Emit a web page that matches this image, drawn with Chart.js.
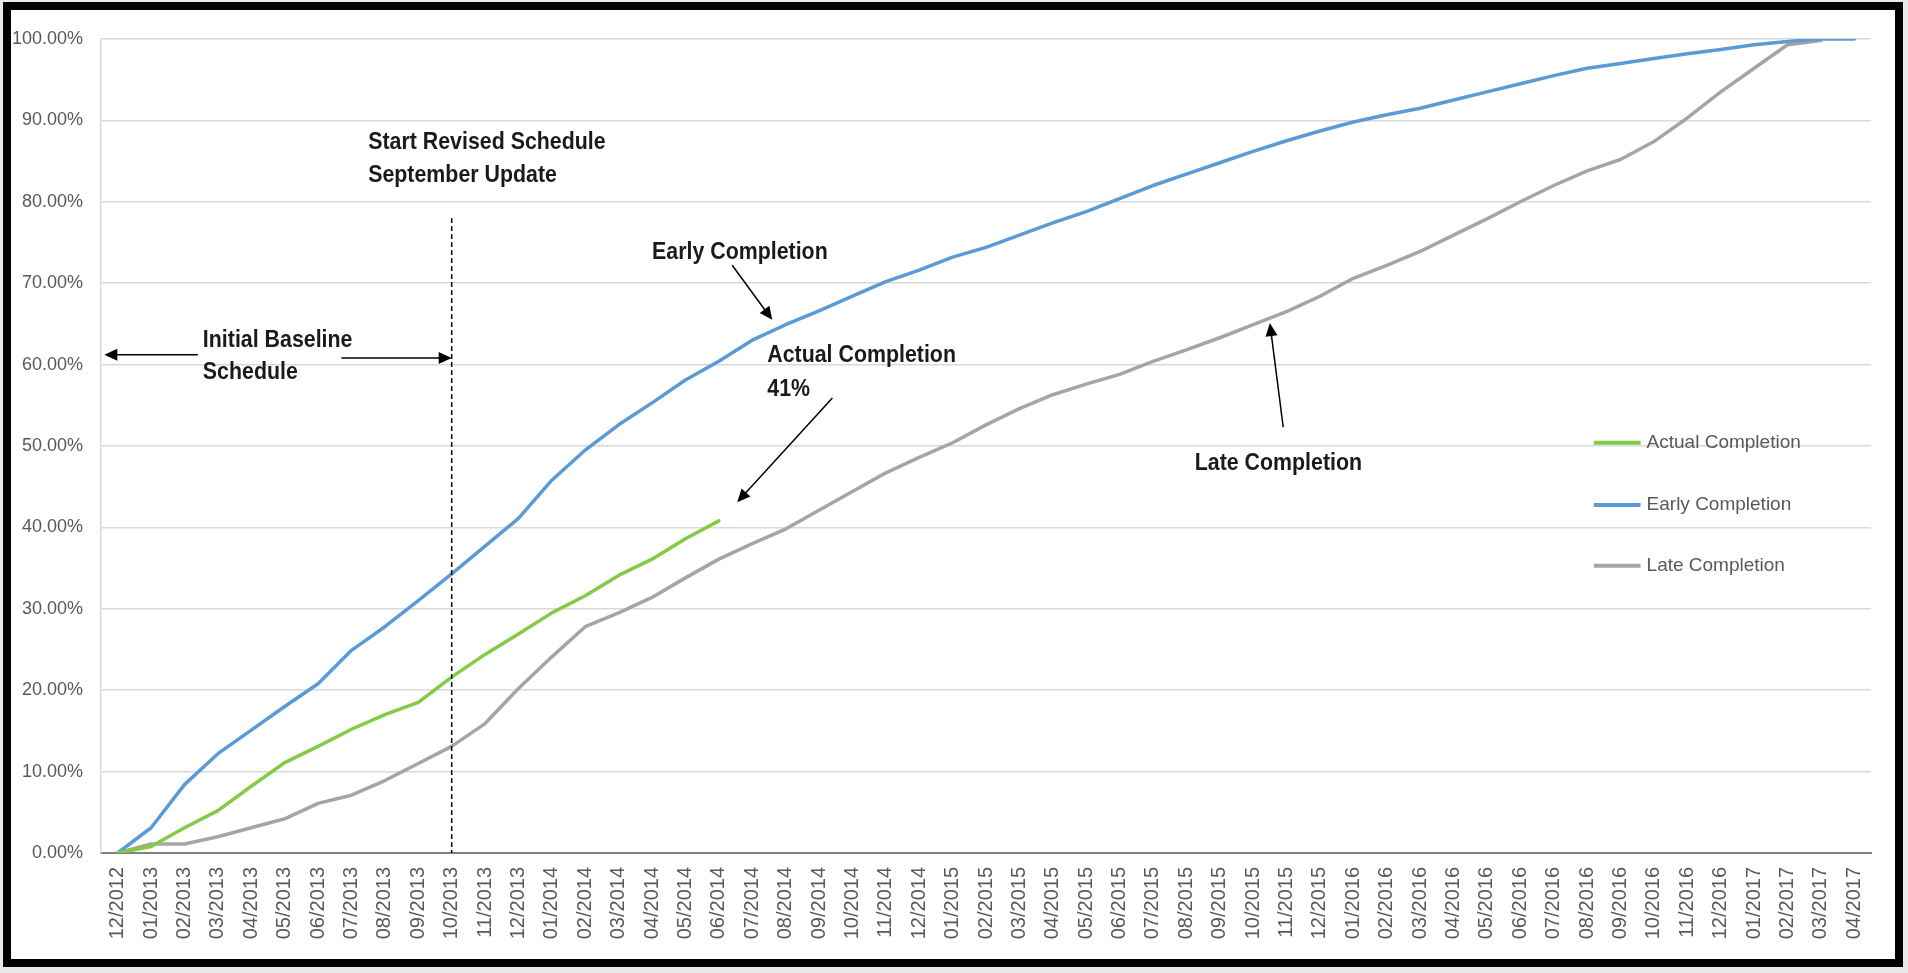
<!DOCTYPE html>
<html>
<head>
<meta charset="utf-8">
<title>Completion curves</title>
<script src="https://cdn.jsdelivr.net/npm/chart.js@4.4.1/dist/chart.umd.min.js"></script>
<style>
  html, body { margin: 0; padding: 0; background: #e9e9e9; }
  #frame {
    position: absolute; left: 3px; top: 2px;
    width: 1900px; height: 965px;
    box-sizing: border-box; border: 8px solid #000; background: #fff;
  }
  #wrap { position: absolute; left: 0; top: 0; width: 1884px; height: 949px; }
</style>
</head>
<body>
<div id="frame"><div id="wrap"><canvas id="progress"></canvas></div></div>
<script>
// months on the category axis
var months = [
  '12/2012',
  '01/2013', '02/2013', '03/2013', '04/2013', '05/2013', '06/2013',
  '07/2013', '08/2013', '09/2013', '10/2013', '11/2013', '12/2013',
  '01/2014', '02/2014', '03/2014', '04/2014', '05/2014', '06/2014',
  '07/2014', '08/2014', '09/2014', '10/2014', '11/2014', '12/2014',
  '01/2015', '02/2015', '03/2015', '04/2015', '05/2015', '06/2015',
  '07/2015', '08/2015', '09/2015', '10/2015', '11/2015', '12/2015',
  '01/2016', '02/2016', '03/2016', '04/2016', '05/2016', '06/2016',
  '07/2016', '08/2016', '09/2016', '10/2016', '11/2016', '12/2016',
  '01/2017', '02/2017', '03/2017', '04/2017'
];

// cumulative % complete
var actualCompletion = [
  0, 0.8, 3.1, 5.2, 8.2, 11.1, 13.1, 15.2, 17.0, 18.5, 21.6, 24.4, 26.9,
  29.5, 31.6, 34.1, 36.1, 38.6, 40.8
];
var earlyCompletion = [
  0, 3.1, 8.4, 12.2, 15.1, 18.0, 20.8, 24.9, 27.8, 31.0, 34.3, 37.7, 41.1,
  45.8, 49.5, 52.6, 55.3, 58.1, 60.4, 63.0, 64.9, 66.6, 68.4, 70.2, 71.6,
  73.2, 74.4, 75.9, 77.4, 78.8, 80.4, 82.0, 83.4, 84.8, 86.2, 87.5, 88.7,
  89.8, 90.7, 91.5, 92.5, 93.5, 94.5, 95.5, 96.4, 97.0, 97.6, 98.2, 98.7,
  99.3, 99.7, 100, 100
];
var lateCompletion = [
  0, 1.1, 1.1, 2.0, 3.1, 4.2, 6.1, 7.1, 8.9, 11.0, 13.1, 15.9, 20.2,
  24.1, 27.8, 29.5, 31.4, 33.8, 36.1, 38.0, 39.8, 42.1, 44.4, 46.7, 48.6,
  50.4, 52.6, 54.6, 56.3, 57.6, 58.8, 60.4, 61.8, 63.3, 64.9, 66.5, 68.4,
  70.6, 72.2, 73.9, 75.9, 77.9, 80.0, 82.0, 83.8, 85.2, 87.4, 90.3, 93.5,
  96.4, 99.3, 99.8
];

var seriesNames = ['Actual Completion', 'Early Completion', 'Late Completion'];
var seriesColors = ['#82cb44', '#5b9bd5', '#a5a5a5'];

var revisedMonth = 10; // index of 10/2013, start of revised schedule

// call-outs, placed in axis units (month index, percent)
var notes = [
  { text: 'Start Revised Schedule', x: 7.5, y: 87.3 },
  { text: 'September Update', x: 7.5, y: 83.3 },
  { text: 'Initial Baseline', x: 2.55, y: 63.0 },
  { text: 'Schedule', x: 2.55, y: 59.0 },
  { text: 'Early Completion', x: 16.0, y: 73.8 },
  { text: 'Actual Completion', x: 19.45, y: 61.1 },
  { text: '41%', x: 19.45, y: 56.9 },
  { text: 'Late Completion', x: 32.25, y: 47.9 }
];
var arrows = [
  { from: [2.4, 61.2], to: [-0.4, 61.2] },
  { from: [6.7, 60.8], to: [10.0, 60.8] },
  { from: [18.4, 72.2], to: [19.6, 65.5] },
  { from: [21.4, 55.9], to: [18.55, 43.1] },
  { from: [34.9, 52.3], to: [34.5, 65.1] }
];
var legendRows = [50.4, 42.75, 35.3];

var noteFont = 'bold 24px "Liberation Sans", Arial, sans-serif';
var noteSquash = 0.89; // call-outs are set in a narrow face
var labelFont = '"Liberation Sans", Arial, sans-serif';

function drawArrow(ctx, x1, y1, x2, y2) {
  var a = Math.atan2(y2 - y1, x2 - x1);
  var len = 13, half = 6;
  ctx.beginPath();
  ctx.moveTo(x1, y1);
  ctx.lineTo(x2 - Math.cos(a) * len * 0.8, y2 - Math.sin(a) * len * 0.8);
  ctx.stroke();
  ctx.beginPath();
  ctx.moveTo(x2, y2);
  ctx.lineTo(x2 - Math.cos(a) * len - Math.sin(a) * half, y2 - Math.sin(a) * len + Math.cos(a) * half);
  ctx.lineTo(x2 - Math.cos(a) * len + Math.sin(a) * half, y2 - Math.sin(a) * len - Math.cos(a) * half);
  ctx.closePath();
  ctx.fill();
}

var overlay = {
  id: 'overlay',
  afterDatasetsDraw: function (chart) {
    var ctx = chart.ctx;
    var xs = chart.scales.x, ys = chart.scales.y;
    var x0 = xs.getPixelForValue(0), step = xs.getPixelForValue(1) - x0;
    function px(i) { return x0 + i * step; }
    function py(v) { return ys.getPixelForValue(v); }

    ctx.save();

    // revised schedule marker
    ctx.strokeStyle = '#000';
    ctx.lineWidth = 1.5;
    ctx.setLineDash([5, 3]);
    ctx.beginPath();
    ctx.moveTo(px(revisedMonth), py(78));
    ctx.lineTo(px(revisedMonth), py(0));
    ctx.stroke();
    ctx.setLineDash([]);

    // call-out text
    ctx.fillStyle = '#1a1a1a';
    ctx.font = noteFont;
    ctx.textAlign = 'left';
    ctx.textBaseline = 'middle';
    notes.forEach(function (n) {
      ctx.save();
      ctx.translate(px(n.x), py(n.y));
      ctx.scale(noteSquash, 1);
      ctx.fillText(n.text, 0, 0);
      ctx.restore();
    });

    // arrows
    ctx.strokeStyle = '#000';
    ctx.fillStyle = '#000';
    ctx.lineWidth = 1.5;
    arrows.forEach(function (a) {
      drawArrow(ctx, px(a.from[0]), py(a.from[1]), px(a.to[0]), py(a.to[1]));
    });

    // legend inside the plot, right side
    ctx.font = '19px ' + labelFont;
    chart.data.datasets.forEach(function (ds, k) {
      var y = py(legendRows[k]);
      ctx.strokeStyle = ds.borderColor;
      ctx.lineWidth = 4;
      ctx.beginPath();
      ctx.moveTo(px(44.2), y);
      ctx.lineTo(px(45.6), y);
      ctx.stroke();
      ctx.fillStyle = '#595959';
      ctx.fillText(ds.label, px(45.78), y);
    });

    ctx.restore();
  }
};

var series = [actualCompletion, earlyCompletion, lateCompletion];

new Chart(document.getElementById('progress').getContext('2d'), {
  type: 'line',
  data: {
    labels: months,
    datasets: series.map(function (values, k) {
      return {
        label: seriesNames[k],
        data: values,
        borderColor: seriesColors[k],
        backgroundColor: seriesColors[k],
        borderWidth: 3.5,
        pointRadius: 0,
        tension: 0,
        fill: false,
        borderCapStyle: 'round',
        borderJoinStyle: 'round'
      };
    })
  },
  options: {
    responsive: true,
    maintainAspectRatio: false,
    animation: false,
    layout: { padding: { top: 29, right: 24, left: 0, bottom: 0 } },
    plugins: {
      legend: { display: false },
      tooltip: { enabled: false }
    },
    scales: {
      x: {
        offset: true,
        grid: { display: false, drawTicks: false },
        border: { display: true, color: '#7f7f7f', width: 2 },
        ticks: {
          autoSkip: false,
          minRotation: 90,
          maxRotation: 90,
          padding: 14,
          color: '#595959',
          font: { family: labelFont, size: 20 }
        },
        afterFit: function (scale) { scale.height = 106; }
      },
      y: {
        min: 0,
        max: 100,
        grid: { color: '#d9d9d9', lineWidth: 1.5, drawTicks: false },
        border: { display: true, color: '#d9d9d9', width: 1.5 },
        ticks: {
          stepSize: 10,
          padding: 18,
          color: '#595959',
          font: { family: labelFont, size: 18 },
          callback: function (v) { return v.toFixed(2) + '%'; }
        },
        afterFit: function (scale) { scale.width = 90; }
      }
    }
  },
  plugins: [overlay]
});
</script>
</body>
</html>
